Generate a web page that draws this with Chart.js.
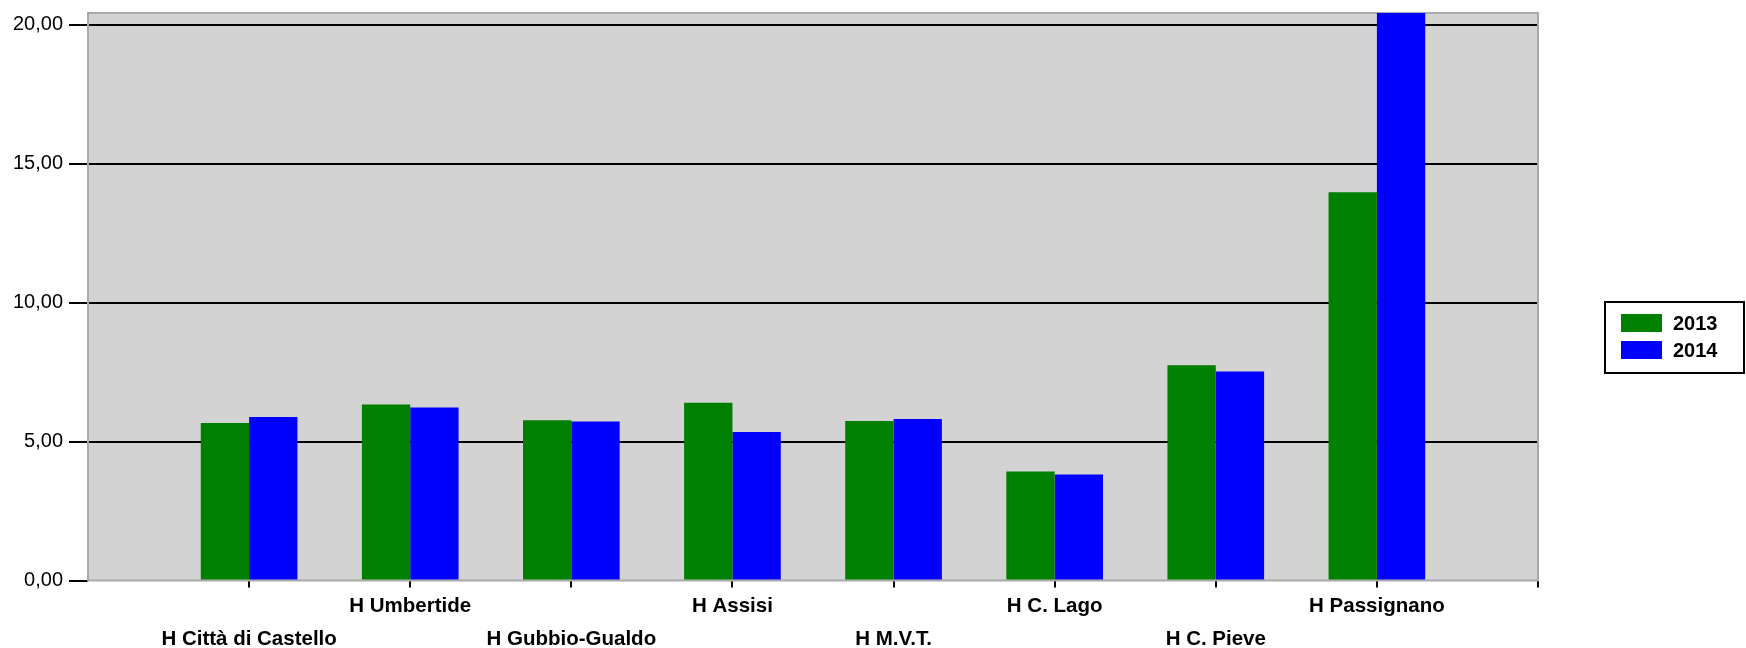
<!DOCTYPE html>
<html>
<head>
<meta charset="utf-8">
<script src="https://cdn.jsdelivr.net/npm/chart.js@4/dist/chart.umd.min.js"></script>
<style>
  html, body { margin: 0; padding: 0; background: #fff; }
  #wrap { width: 1746px; height: 648px; }
</style>
</head>
<body>
<div id="wrap"><canvas id="chart" width="1746" height="648"></canvas></div>
<script>
// hospitals on the category axis (positions 1..8, axis runs 0..9)
const hospitals = [
  'H Città di Castello', 'H Umbertide', 'H Gubbio-Gualdo', 'H Assisi',
  'H M.V.T.', 'H C. Lago', 'H C. Pieve', 'H Passignano'
];
const years = ['2013', '2014'];
const values2013 = [5.67, 6.34, 5.77, 6.40, 5.74, 3.92, 7.75, 13.98];
const values2014 = [5.89, 6.23, 5.72, 5.35, 5.81, 3.82, 7.52, 20.43];
const yTicks = [0, 5, 10, 15, 20];
const xTicks = [1, 2, 3, 4, 5, 6, 7, 8, 9];

const FONT = "'Liberation Sans', Arial, sans-serif";

const toPoints = arr => arr.map((v, i) => ({ x: i + 1, y: v }));

// grey plot background + frame
const plotFrame = {
  id: 'plotFrame',
  beforeDraw(chart) {
    const { ctx, chartArea: a } = chart;
    ctx.save();
    ctx.fillStyle = '#d3d3d3';
    ctx.fillRect(a.left, a.top, a.right - a.left, a.bottom - a.top);
    ctx.restore();
  },
  beforeDatasetsDraw(chart) {
    const { ctx, chartArea: a } = chart;
    ctx.save();
    ctx.strokeStyle = '#a9a9a9';
    ctx.lineWidth = 2;
    ctx.strokeRect(a.left, a.top, a.right - a.left, a.bottom - a.top);
    ctx.restore();
  }
};

// boxed legend on the right
const boxLegend = {
  id: 'boxLegend',
  afterDraw(chart) {
    const { ctx } = chart;
    const x0 = 1605, y0 = 302, w = 139, h = 71;
    ctx.save();
    ctx.fillStyle = '#fff';
    ctx.fillRect(x0, y0, w, h);
    ctx.strokeStyle = '#000';
    ctx.lineWidth = 2;
    ctx.strokeRect(x0, y0, w, h);
    ctx.font = 'bold 20px ' + FONT;
    ctx.textBaseline = 'middle';
    chart.data.datasets.forEach((ds, i) => {
      const y = y0 + 12 + i * 27;
      ctx.fillStyle = ds.backgroundColor;
      ctx.fillRect(x0 + 16, y, 41, 18);
      ctx.fillStyle = '#000';
      ctx.fillText(ds.label, x0 + 68, y + 10);
    });
    ctx.restore();
  }
};

new Chart(document.getElementById('chart'), {
  type: 'bar',
  data: {
    datasets: [
      { label: years[0], data: toPoints(values2013), backgroundColor: '#008000' },
      { label: years[1], data: toPoints(values2014), backgroundColor: '#0000ff' }
    ]
  },
  options: {
    responsive: false,
    animation: false,
    layout: { padding: { top: 13, right: 208, left: 0, bottom: 0 } },
    categoryPercentage: 0.6,
    barPercentage: 1.0,
    plugins: {
      legend: { display: false },
      tooltip: { enabled: false }
    },
    scales: {
      x: {
        type: 'linear',
        min: 0,
        max: 9,
        offset: false,
        afterBuildTicks(scale) { scale.ticks = xTicks.map(v => ({ value: v })); },
        afterFit(scale) {
          scale.height = 67.5;
          scale.paddingLeft = 0;
          scale.paddingRight = 0;
        },
        grid: { drawOnChartArea: false, offset: false, tickLength: 7, tickColor: '#000', lineWidth: 2 },
        border: { display: false },
        ticks: {
          autoSkip: false,
          maxRotation: 0,
          padding: 3,
          color: '#000',
          font: { family: FONT, size: 20.5, weight: 'bold', lineHeight: 1.58 },
          callback(value) {
            const name = hospitals[value - 1];
            if (!name) return '';
            return (value % 2 === 1) ? ['', name] : [name];
          }
        }
      },
      y: {
        min: 0,
        max: 20.43,
        afterBuildTicks(scale) { scale.ticks = yTicks.map(v => ({ value: v })); },
        afterFit(scale) {
          scale.width = 88;
          scale.paddingTop = 0;
          scale.paddingBottom = 0;
        },
        grid: {
          color: c => (c.tick && c.tick.value === 0) ? 'rgba(0,0,0,0)' : '#000',
          tickColor: '#000',
          lineWidth: 2,
          tickLength: 19
        },
        border: { display: false },
        ticks: {
          padding: 6,
          color: '#000',
          font: { family: FONT, size: 20 },
          callback: v => v.toFixed(2).replace('.', ',')
        }
      }
    }
  },
  plugins: [plotFrame, boxLegend]
});
</script>
</body>
</html>
